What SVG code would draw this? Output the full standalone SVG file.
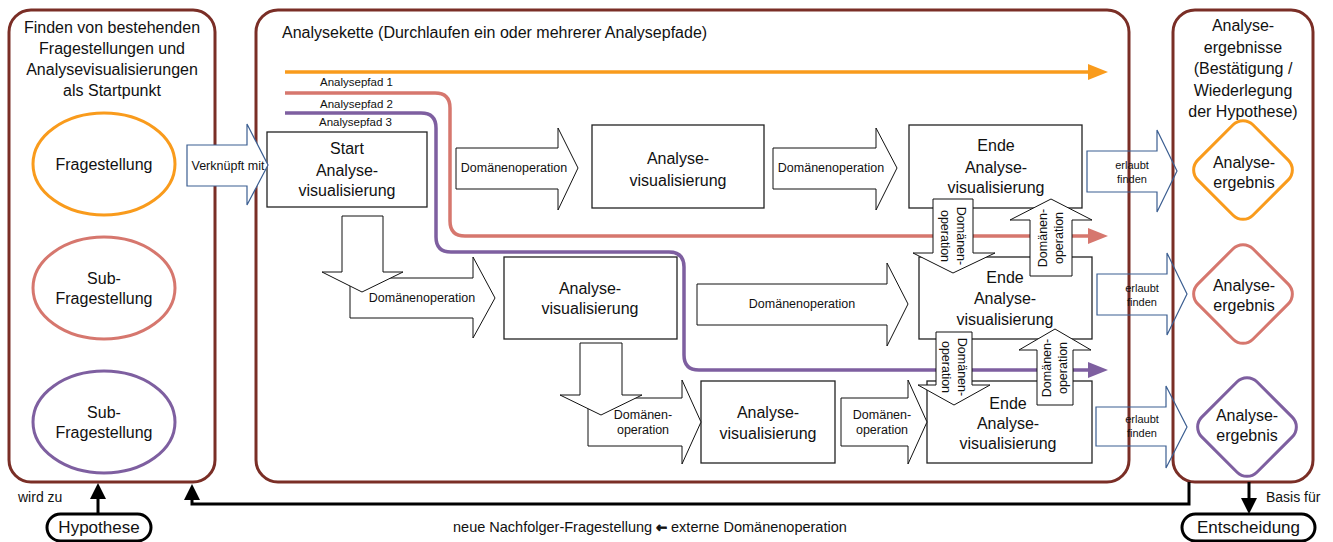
<svg xmlns="http://www.w3.org/2000/svg" width="1333" height="542" viewBox="0 0 1333 542">
<style>
text{font-family:"Liberation Sans",Arial,sans-serif;fill:#111}
.c{text-anchor:middle}
.t16{font-size:16px}
.t17{font-size:17px}
.t14{font-size:14px}
.t12{font-size:12.5px}
.t11{font-size:11.5px}
.t10{font-size:11px}
.panel{fill:none;stroke:#7a2e26;stroke-width:3}
.box{fill:#fff;stroke:#222;stroke-width:1.3}
.barr{fill:#fff;stroke:#111;stroke-width:1}
.blarr{fill:none;stroke:#3b5e91;stroke-width:1.2}
.path{fill:none;stroke-width:3.5}
.conn{fill:none;stroke:#000;stroke-width:3}
.term{fill:#fff;stroke:#000;stroke-width:3}
</style>
<defs>
<marker id="mO" markerUnits="userSpaceOnUse" markerWidth="20" markerHeight="16" refX="6" refY="8" orient="auto"><path d="M0,0 L20,8 L0,16 z" fill="#f99b1c"/></marker>
<marker id="mS" markerUnits="userSpaceOnUse" markerWidth="20" markerHeight="16" refX="6" refY="8" orient="auto"><path d="M0,0 L20,8 L0,16 z" fill="#d6776e"/></marker>
<marker id="mP" markerUnits="userSpaceOnUse" markerWidth="20" markerHeight="16" refX="6" refY="8" orient="auto"><path d="M0,0 L20,8 L0,16 z" fill="#7e5fa0"/></marker>
<marker id="mK" markerUnits="userSpaceOnUse" markerWidth="16" markerHeight="16" refX="4" refY="8" orient="auto"><path d="M0,0 L16,8 L0,16 z" fill="#000"/></marker>
</defs>

<g id="panel-start">
<rect class="panel" x="9" y="10" width="206" height="472" rx="22"/>
<text class="t16 c" x="112" y="33">Finden von bestehenden</text>
<text class="t16 c" x="112" y="54">Fragestellungen und</text>
<text class="t16 c" x="112" y="75">Analysevisualisierungen</text>
<text class="t16 c" x="112" y="96">als Startpunkt</text>
</g>
<g id="panel-kette">
<rect class="panel" x="256" y="10" width="873" height="472" rx="22"/>
<text class="t16" x="282" y="38">Analysekette (Durchlaufen ein oder mehrerer Analysepfade)</text>
</g>
<g id="panel-ergebnisse">
<rect class="panel" x="1173" y="10" width="140" height="472" rx="22"/>
<text class="t16 c" x="1243" y="31">Analyse-</text>
<text class="t16 c" x="1243" y="53">ergebnisse</text>
<text class="t16 c" x="1243" y="74">(Bestätigung /</text>
<text class="t16 c" x="1243" y="96">Wiederlegung</text>
<text class="t16 c" x="1243" y="117">der Hypothese)</text>
</g>

<g id="frage1"><ellipse cx="104" cy="164" rx="71" ry="51" fill="none" stroke="#f99b1c" stroke-width="3"/><text class="t16 c" x="104" y="170">Fragestellung</text></g>
<g id="frage2"><ellipse cx="104" cy="288" rx="71" ry="51" fill="none" stroke="#d6776e" stroke-width="3"/><text class="t16 c" x="104" y="284">Sub-</text><text class="t16 c" x="104" y="304">Fragestellung</text></g>
<g id="frage3"><ellipse cx="104" cy="422" rx="71" ry="51" fill="none" stroke="#7e5fa0" stroke-width="3"/><text class="t16 c" x="104" y="418">Sub-</text><text class="t16 c" x="104" y="438">Fragestellung</text></g>

<g id="ergebnis1"><rect x="-39" y="-39" width="78" height="78" rx="14" transform="translate(1243,170) rotate(45)" fill="none" stroke="#f99b1c" stroke-width="3"/><text class="t16 c" x="1244" y="168">Analyse-</text><text class="t16 c" x="1244" y="188">ergebnis</text></g>
<g id="ergebnis2"><rect x="-39" y="-39" width="78" height="78" rx="14" transform="translate(1243,294) rotate(45)" fill="none" stroke="#d6776e" stroke-width="3"/><text class="t16 c" x="1244" y="291">Analyse-</text><text class="t16 c" x="1244" y="311">ergebnis</text></g>
<g id="ergebnis3"><rect x="-39" y="-39" width="78" height="78" rx="14" transform="translate(1247,427) rotate(45)" fill="none" stroke="#7e5fa0" stroke-width="3"/><text class="t16 c" x="1247" y="421">Analyse-</text><text class="t16 c" x="1247" y="441">ergebnis</text></g>

<g id="connectors">
<path class="path" stroke="#f99b1c" d="M285,72 H1094" marker-end="url(#mO)"/>
<path class="path" stroke="#d6776e" d="M285,93 H435 Q450,93 450,108 V221 Q450,236 465,236 H1094" marker-end="url(#mS)"/>
<path class="path" stroke="#7e5fa0" d="M285,113 H421 Q436,113 436,128 V237 Q436,252 451,252 H669 Q684,252 684,267 V355 Q684,370 699,370 H1094" marker-end="url(#mP)"/>
<text class="t11" x="320" y="86">Analysepfad 1</text>
<text class="t11" x="320" y="108">Analysepfad 2</text>
<text class="t11" x="319" y="126">Analysepfad 3</text>
<path class="conn" d="M98,513 V495" marker-end="url(#mK)"/>
<path class="conn" d="M1189,482 V504 H192 V496" marker-end="url(#mK)"/>
<path class="conn" d="M1249,482 V502" marker-end="url(#mK)"/>
<text class="t14" x="18" y="502">wird zu</text>
<text class="t14" x="1266" y="502">Basis für</text>
<text x="453" y="532" style="font-size:14.5px">neue Nachfolger-Fragestellung <tspan style="font-family:'DejaVu Sans',sans-serif;font-weight:bold;font-size:13px;stroke:#111;stroke-width:0.9">←</tspan> externe Domänenoperation</text>
</g>

<g id="start-vis"><rect class="box" x="267" y="132" width="160" height="75"/><text class="t16 c" x="347" y="154">Start</text><text class="t16 c" x="347" y="176">Analyse-</text><text class="t16 c" x="347" y="196">visualisierung</text></g>
<g id="vis1"><rect class="box" x="592" y="125" width="172" height="83"/><text class="t16 c" x="678" y="164">Analyse-</text><text class="t16 c" x="678" y="186">visualisierung</text></g>
<g id="ende1"><rect class="box" x="909" y="125" width="173" height="83"/><text class="t16 c" x="996" y="151">Ende</text><text class="t16 c" x="996" y="173">Analyse-</text><text class="t16 c" x="996" y="193">visualisierung</text></g>
<g id="vis2"><rect class="box" x="504" y="257" width="173" height="82"/><text class="t16 c" x="590" y="294">Analyse-</text><text class="t16 c" x="590" y="314">visualisierung</text></g>
<g id="ende2"><rect class="box" x="919" y="257" width="173" height="82"/><text class="t16 c" x="1005" y="283">Ende</text><text class="t16 c" x="1005" y="304">Analyse-</text><text class="t16 c" x="1005" y="325">visualisierung</text></g>
<g id="vis3"><rect class="box" x="701" y="381" width="134" height="82"/><text class="t16 c" x="768" y="418">Analyse-</text><text class="t16 c" x="768" y="439">visualisierung</text></g>
<g id="ende3"><rect class="box" x="927" y="381" width="165" height="82"/><text class="t16 c" x="1008" y="409">Ende</text><text class="t16 c" x="1008" y="429">Analyse-</text><text class="t16 c" x="1008" y="449">visualisierung</text></g>

<g id="op-r1a"><polygon class="barr" points="456,148 558,148 558,128 578,168 558,210 558,189 456,189"/><text class="t12 c" x="514" y="172">Domänenoperation</text></g>
<g id="op-r1b"><polygon class="barr" points="773,148 876,148 876,128 897,168 876,210 876,189 773,189"/><text class="t12 c" x="831" y="172">Domänenoperation</text></g>
<g id="op-r2a"><polygon class="barr" points="350,278 473,278 473,257 495,298 473,338 473,318 350,318"/><text class="t12 c" x="422" y="302">Domänenoperation</text></g>
<g id="op-start-down"><polygon class="barr" points="342,216 383,216 383,272 403,272 362,292 322,272 342,272"/></g>
<g id="op-r2b"><polygon class="barr" points="697,284 887,284 887,263 908,304 887,346 887,325 697,325"/><text class="t12 c" x="802" y="308">Domänenoperation</text></g>
<g id="op-r3a"><polygon class="barr" points="588,398 682,398 682,380 701,422 682,464 682,446 588,446"/><text class="t12 c" x="643" y="419">Domänen-</text><text class="t12 c" x="643" y="434">operation</text></g>
<g id="op-vis2-down"><polygon class="barr" points="580,343 622,343 622,395 642,395 601,415 560,395 580,395"/></g>
<g id="op-r3b"><polygon class="barr" points="841,398 908,398 908,380 927,422 908,464 908,446 841,446"/><text class="t12 c" x="882" y="419">Domänen-</text><text class="t12 c" x="882" y="434">operation</text></g>
<g id="op-ende1-down"><polygon class="barr" points="933,199 973,199 973,253 995,253 953,273 913,253 933,253"/><g transform="translate(953,236) rotate(90)"><text class="t12 c" x="0" y="-4">Domänen-</text><text class="t12 c" x="0" y="12">operation</text></g></g>
<g id="op-ende2-up"><polygon class="barr" points="1030,276 1030,220 1010,220 1051,199 1092,220 1072,220 1072,276"/><g transform="translate(1051,238) rotate(-90)"><text class="t12 c" x="0" y="-4">Domänen-</text><text class="t12 c" x="0" y="12">operation</text></g></g>
<g id="op-ende2-down"><polygon class="barr" points="936,332 972,332 972,385 990,385 954,405 918,385 936,385"/><g transform="translate(954,367) rotate(90)"><text class="t12 c" x="0" y="-4">Domänen-</text><text class="t12 c" x="0" y="12">operation</text></g></g>
<g id="op-ende3-up"><polygon class="barr" points="1037,405 1037,350 1019,350 1055,329 1091,350 1073,350 1073,405"/><g transform="translate(1055,368) rotate(-90)"><text class="t12 c" x="0" y="-4">Domänen-</text><text class="t12 c" x="0" y="12">operation</text></g></g>

<g id="verknuepft"><polygon fill="#fff" stroke="#3b5e91" stroke-width="1.2" points="187,145 247,145 247,124 268,165 247,205 247,186 187,186"/><text class="t12 c" x="228" y="170">Verknüpft mit</text></g>
<g id="erlaubt1"><polygon class="blarr" points="1087,151 1157,151 1157,130 1177,171 1157,212 1157,192 1087,192"/><text class="t10 c" x="1132" y="169">erlaubt</text><text class="t10 c" x="1132" y="183">finden</text></g>
<g id="erlaubt2"><polygon class="blarr" points="1097,274 1167,274 1167,253 1187,294 1167,335 1167,315 1097,315"/><text class="t10 c" x="1142" y="292">erlaubt</text><text class="t10 c" x="1142" y="306">finden</text></g>
<g id="erlaubt3"><polygon class="blarr" points="1096,407 1166,407 1166,386 1187,427 1166,468 1166,446 1096,446"/><text class="t10 c" x="1142" y="423">erlaubt</text><text class="t10 c" x="1142" y="437">finden</text></g>

<g id="hypothese"><rect class="term" x="47" y="514" width="104" height="27" rx="13.5"/><text class="t17 c" x="99" y="533">Hypothese</text></g>
<g id="entscheidung"><rect class="term" x="1182" y="514" width="133" height="27" rx="13.5"/><text class="t17 c" x="1248.5" y="533">Entscheidung</text></g>
</svg>
